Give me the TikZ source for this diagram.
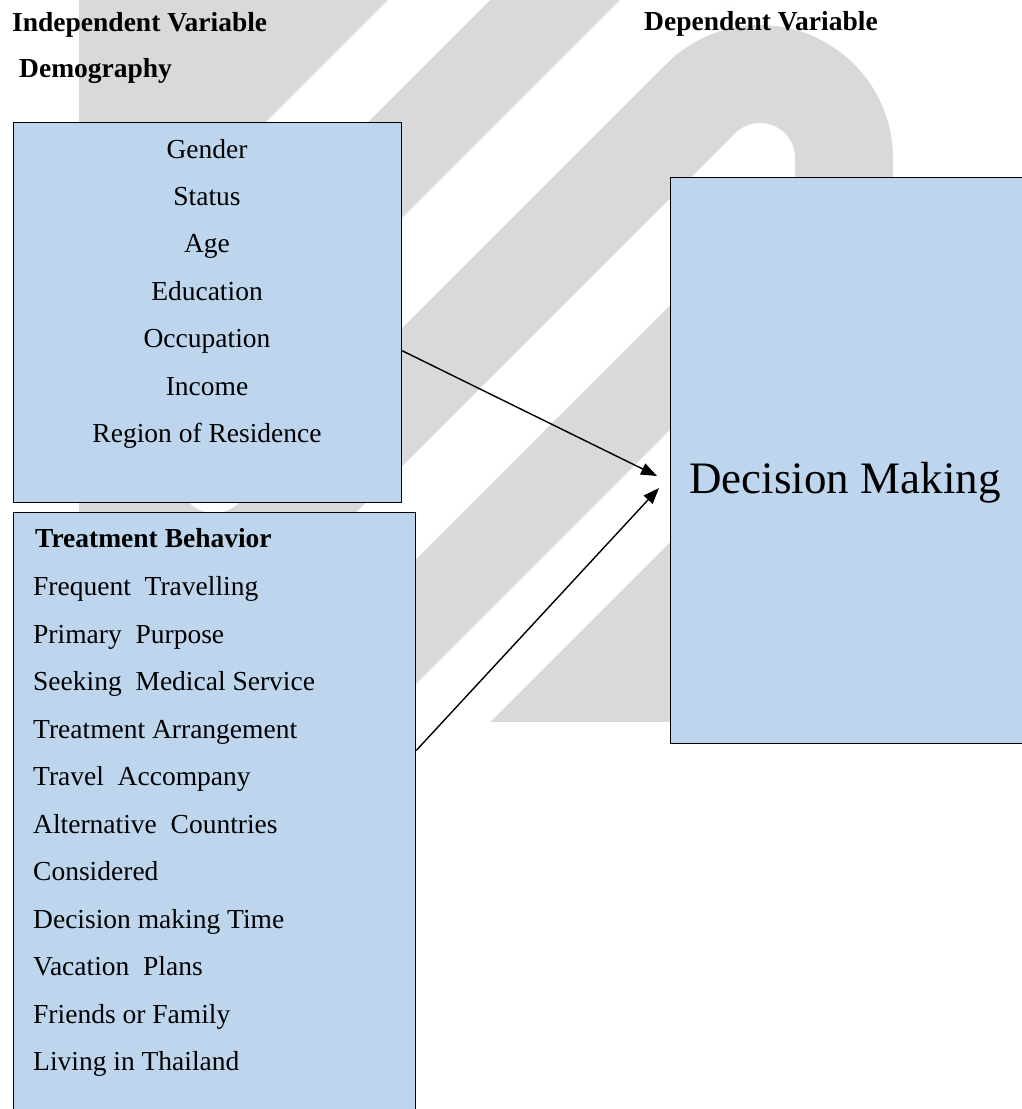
\documentclass[tikz,border=0pt]{standalone}
\usepackage{fontspec}
\setmainfont{Liberation Serif}
\usetikzlibrary{arrows.meta,calc}
\definecolor{boxblue}{RGB}{189,214,238}
\definecolor{wmgray}{RGB}{217,217,217}
\begin{document}
\begin{tikzpicture}[x=1pt,y=-1pt,
  vbox/.style={draw=black, line width=1.3pt, fill=boxblue, rectangle, inner sep=0pt, anchor=north west},
  itemtxt/.style={font=\fontsize{27.5}{33}\selectfont, inner sep=0pt},
  headtxt/.style={font=\fontsize{27.5}{33}\selectfont\bfseries, inner sep=0pt, anchor=base west},
  bigtxt/.style={font=\fontsize{45}{54}\selectfont, inner sep=0pt, anchor=base},
  conn/.style={line width=1.4pt, -{Triangle[length=16pt,width=12pt]}}
]
\useasboundingbox (0,0) rectangle (1022,1109);

% watermark
\fill[wmgray] (79,0) rectangle (893,722);
\fill[white] (398,-10) -- (500,-10) -- (-10,500) -- (-10,398) -- cycle;
\fill[white] (630,-10) -- (740,-10) -- (252,478) -- (142,478) -- cycle;
\fill[white] (214,478) circle[radius=35];
\fill[white] (735.3,133.3) -- (-10,878.6) -- (-10,985) -- (795,180) -- (795,158) -- (760,158) -- cycle;
\fill[white] (760,158) circle[radius=35];
\fill[white] (1110,-10) -- (1222,-10) -- (-10,1222) -- (-10,1110) -- cycle;
\fill[white] (666,64) -- (740,-10) -- (1000,-10) -- (1000,158) -- (893,158) arc[start angle=0, end angle=-135, radius=133] -- cycle;

% boxes
\node[vbox, minimum width=388pt, minimum height=380pt] (demo) at (13,122) {};
\node[vbox, minimum width=402pt, minimum height=610pt] (treat) at (13,512) {};
\node[vbox, minimum width=360pt, minimum height=566pt] (dm) at (670,177) {};

% headings
\node[headtxt] (iv) at (12,31) {Independent Variable};
\node[headtxt] (dv) at (644,30) {Dependent Variable};
\node[headtxt] (dg) at (19,77) {Demography};
\node[headtxt] (tb) at (35,547) {Treatment Behavior};

% demography items
\foreach [count=\i] \t in {Gender,Status,Age,Education,Occupation,Income,Region of Residence}
  \node[itemtxt, anchor=base] (d\i) at (207,{158+47.4*(\i-1)}) {\t};

% treatment behavior items
\foreach [count=\i] \t in {Frequent~~Travelling,Primary~~Purpose,Seeking~~Medical Service,Treatment Arrangement,Travel~~Accompany,Alternative~~Countries,Considered,Decision making Time,Vacation~~Plans,Friends or Family,Living in Thailand}
  \node[itemtxt, anchor=base west] (t\i) at (33,{595.6+47.5*(\i-1)}) {\t};

% dependent variable
\node[bigtxt] (dmtxt) at (845,493) {Decision Making};

% connectors
\coordinate (tip1) at (657,476);
\coordinate (tip2) at (659,488);
\draw[conn] ($(demo.north east)!0.6!(demo.south east)$) -- (tip1);
\draw[conn] ($(treat.north east)!0.39!(treat.south east)$) -- (tip2);
\end{tikzpicture}
\end{document}
